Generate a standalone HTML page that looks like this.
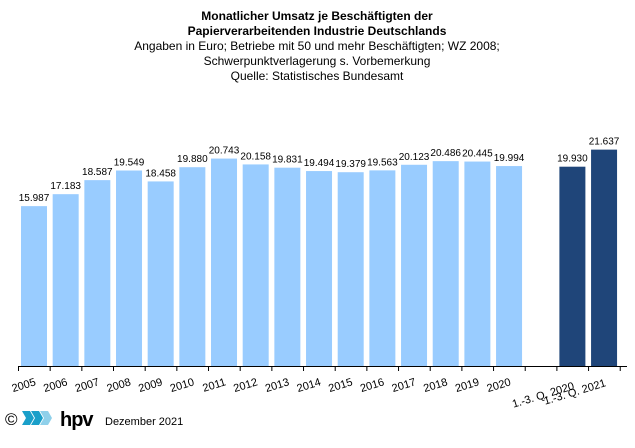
<!DOCTYPE html>
<html><head><meta charset="utf-8"><style>
html,body{margin:0;padding:0;background:#fff;width:635px;height:448px;overflow:hidden}
svg{display:block;font-family:"Liberation Sans",Arial,sans-serif}
</style></head><body>
<svg width="635" height="448" viewBox="0 0 635 448">
<g text-anchor="middle" fill="#000">
<text x="317" y="20" font-size="12" font-weight="bold">Monatlicher Umsatz je Beschäftigten der</text>
<text x="317" y="35" font-size="12" font-weight="bold">Papierverarbeitenden Industrie Deutschlands</text>
<text x="317" y="50" font-size="12">Angaben  in Euro; Betriebe mit 50 und mehr Beschäftigten; WZ 2008;</text>
<text x="317" y="65" font-size="12">Schwerpunktverlagerung  s. Vorbemerkung</text>
<text x="317" y="80" font-size="12">Quelle: Statistisches Bundesamt</text>
</g>
<g id="bars"></g>
<line x1="18.5" y1="366.5" x2="627" y2="366.5" stroke="#000" stroke-width="1"/>
<g id="ticks"></g>
<g id="labels" font-size="11"></g>
<text x="5" y="425" font-size="17">©</text>
<g>
<path d="M22 411 h8 l4 7 l-4 7 h-8 l4 -7z" fill="#1a9fc9"/>
<path d="M31 411 h8 l4 7 l-4 7 h-8 l4 -7z" fill="#1a9fc9"/>
<path d="M40 411 h8 l4 7 l-4 7 h-8 l4 -7z" fill="#8fd0ea"/>
</g>
<text x="60" y="426" font-size="20" font-weight="bold" letter-spacing="-1">hpv</text>
<text x="105" y="425" font-size="11">Dezember 2021</text>
</svg>
<script>
var vals=[15987,17183,18587,19549,18458,19880,20743,20158,19831,19494,19379,19563,20123,20486,20445,19994,null,19930,21637];
var labs=["2005","2006","2007","2008","2009","2010","2011","2012","2013","2014","2015","2016","2017","2018","2019","2020","","1.-3. Q. 2020","1.-3. Q. 2021"];
var ns="http://www.w3.org/2000/svg";
function el(t,a,p,txt){var e=document.createElementNS(ns,t);for(var k in a)e.setAttribute(k,a[k]);if(txt)e.textContent=txt;document.getElementById(p).appendChild(e);}
var W=31.67;
for(var i=0;i<=19;i++){
 var x0=18.5+W*i;
 el("line",{x1:x0,y1:366,x2:x0,y2:371,stroke:"#000"},"ticks");
 if(i==19)break;
 if(vals[i]!==null){
  var h=vals[i]*0.01, dark=i>=17;
  el("rect",{x:x0+2.5,y:366-h,width:26,height:h,fill:dark?"#1f4579":"#99ccff"},"bars");
  var s=String(vals[i]);s=s.slice(0,2)+"."+s.slice(2);
  el("text",{x:x0+15.5,y:366-h-5,"font-size":"10","text-anchor":"middle"},"bars",s);
 }
 if(labs[i]){
  var ex=x0+18, cy=i==18?386:(i==17?389:385);
  el("text",{x:ex,y:cy,"text-anchor":"end",transform:"rotate(-17 "+ex+" "+cy+")"},"labels",labs[i]);
 }
}
</script>
</body></html>
